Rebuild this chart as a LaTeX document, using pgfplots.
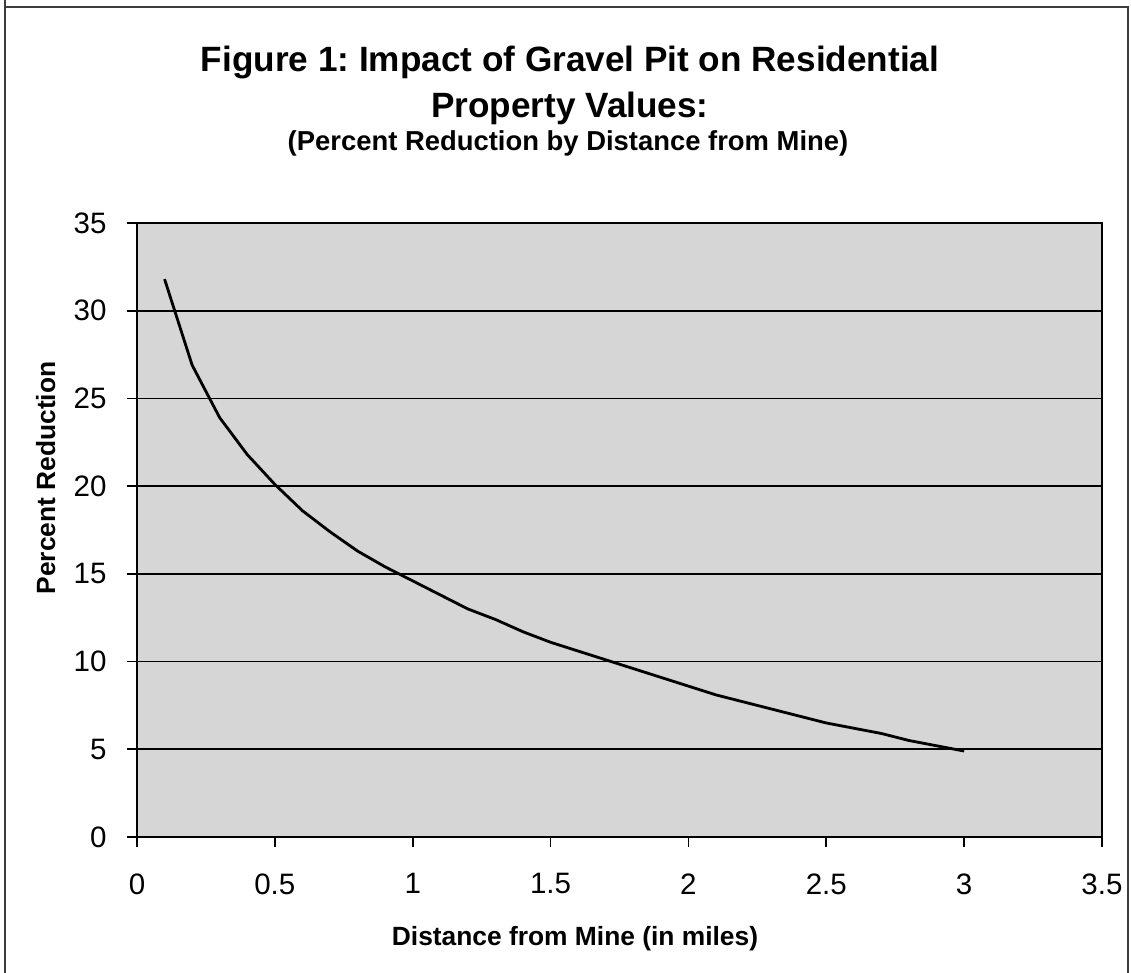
\documentclass[border=0pt]{standalone}
\usepackage{pgfplots}
\pgfplotsset{compat=1.18}
\usepackage{fontspec}
\setmainfont{Liberation Sans}
\frenchspacing
\definecolor{plotbg}{RGB}{214,214,214}
\definecolor{framegray}{RGB}{60,60,60}
\begin{document}
\begin{tikzpicture}
\useasboundingbox (0,0) rectangle (11.31cm,9.72cm);
\draw[framegray,line width=0.5pt] (0.05cm,10cm) -- (0.05cm,9.65cm) -- (11.28cm,9.65cm) -- (11.28cm,-0.2cm);
\draw[framegray,line width=0.5pt] (0.05cm,9.65cm) -- (0.05cm,-0.2cm);
\begin{axis}[
  at={(1.37cm,1.35cm)}, anchor=south west,
  scale only axis, width=9.65cm, height=6.14cm,
  xmin=0, xmax=3.5, ymin=0, ymax=35,
  xtick={0,0.5,...,3.5}, ytick={0,5,...,35},
  axis background/.style={fill=plotbg},
  axis line style={black, line width=0.6pt},
  ymajorgrids, major grid style={black, line width=0.45pt},
  tick align=outside, major tick length=0.1cm,
  tick style={black, line width=0.5pt},
  xtick pos=bottom, ytick pos=left,
  /pgf/number format/assume math mode=true,
  /pgf/number format/.cd, fixed, /pgfplots/.cd,
  tick label style={font=\fontsize{8.4}{10}\selectfont},
  xticklabel style={yshift=-0.14cm},
  yticklabel style={xshift=-0.08cm},
]
\addplot[black, line width=0.8pt] coordinates {
(0.1,31.8) (0.2,26.9) (0.3,23.9) (0.4,21.8) (0.5,20.1)
(0.6,18.6) (0.7,17.4) (0.8,16.3) (0.9,15.4) (1.0,14.6)
(1.1,13.8) (1.2,13.0) (1.3,12.4) (1.4,11.7) (1.5,11.1)
(1.6,10.6) (1.7,10.1) (1.8,9.6) (1.9,9.1) (2.0,8.6)
(2.1,8.1) (2.2,7.7) (2.3,7.3) (2.4,6.9) (2.5,6.5)
(2.6,6.2) (2.7,5.9) (2.8,5.5) (2.9,5.2) (3.0,4.9)
};
\end{axis}
\node[anchor=base, inner sep=0, font=\bfseries\fontsize{10}{12}\selectfont] at (5.70cm,9.00cm) {Figure 1: Impact of Gravel Pit on Residential};
\node[anchor=base, inner sep=0, font=\bfseries\fontsize{10}{12}\selectfont] at (5.70cm,8.54cm) {Property Values:};
\node[anchor=base, inner sep=0, font=\bfseries\fontsize{7.8}{10}\selectfont] at (5.68cm,8.21cm) {(Percent Reduction by Distance from Mine)};
\node[anchor=base, inner sep=0, font=\bfseries\fontsize{7.5}{9}\selectfont] at (5.75cm,0.27cm) {Distance from Mine (in miles)};
\node[anchor=base, inner sep=0, rotate=90, font=\bfseries\fontsize{7.5}{9}\selectfont] at (0.55cm,4.94cm) {Percent Reduction};
\end{tikzpicture}
\end{document}
